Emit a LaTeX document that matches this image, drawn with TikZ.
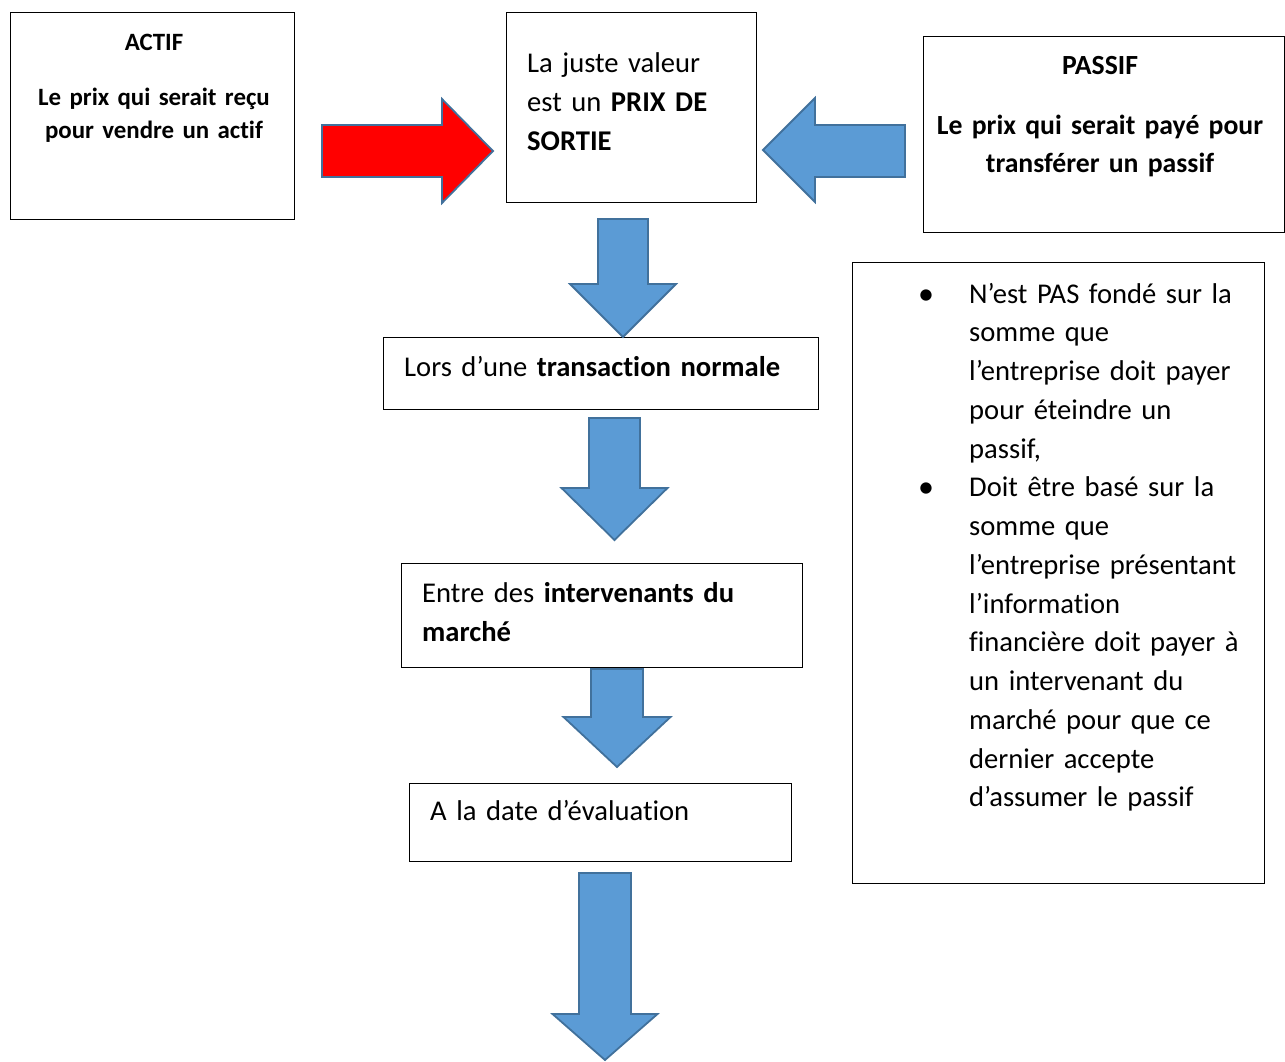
\documentclass[tikz,border=0pt]{standalone}
\usepackage{fontspec}
\setmainfont{Carlito}[Ligatures={CommonOff}]
\definecolor{arrowblue}{HTML}{5B9BD5}
\definecolor{arrowedge}{HTML}{41719C}
\definecolor{arrowred}{HTML}{FF0000}
\tikzset{
  box/.style={draw=black, line width=1.3pt, rectangle, inner sep=0pt, anchor=north west},
  blockarrow/.style={fill=arrowblue, draw=arrowedge, line width=1.8pt, line join=miter},
  redarrow/.style={blockarrow, fill=arrowred},
  txt/.style={inner sep=0pt, anchor=north west, align=left},
  ctxt/.style={inner sep=0pt, anchor=north, align=center},
  bigfont/.style={font=\fontsize{28.6}{39}\selectfont},
  notefont/.style={font=\fontsize{28.6}{38.75}\selectfont},
  headfont/.style={font=\fontsize{24.9}{33}\selectfont\bfseries},
  passfont/.style={font=\fontsize{27.7}{38.5}\selectfont\bfseries},
}
% style, cx, top, half body width, head base y, half head width, tip y
\newcommand\dnblock[7]{%
  \draw[#1] (#2-#4,#3) -- (#2+#4,#3) -- (#2+#4,#5) -- (#2+#6,#5) -- (#2,#7)
    -- (#2-#6,#5) -- (#2-#4,#5) -- cycle;}
\begin{document}
\begin{tikzpicture}[x=1pt,y=-1pt]
\useasboundingbox (0,0) rectangle (1285,1061);

% boxes
\node[box, minimum width=284pt, minimum height=207pt] (actif) at (10,12) {};
\node[box, minimum width=250pt, minimum height=190pt] (sortie) at (506,12) {};
\node[box, minimum width=361pt, minimum height=196pt] (passif) at (923,36) {};
\node[box, minimum width=435pt, minimum height=72pt] (lors) at (383,337) {};
\node[box, minimum width=401pt, minimum height=104pt] (entre) at (401,563) {};
\node[box, minimum width=382pt, minimum height=78pt] (date) at (409,783) {};
\node[box, minimum width=412pt, minimum height=621pt] (notes) at (852,262) {};

% texts
\node[ctxt, headfont, text width=284pt] (actift) at (154,50-23.1)
  {\strut ACTIF\\[22pt] Le prix qui serait reçu\\ pour vendre un actif};
\node[ctxt, passfont, text width=361pt] (passift) at (1100,74-26.95)
  {\strut PASSIF\\[21.5pt] Le prix qui serait payé pour\\ transférer un passif};
\node[txt, bigfont, text width=228pt] (sortiet) at (527,72-27.3)
  {\strut La juste valeur\\ est un \textbf{PRIX DE}\\ \textbf{SORTIE}};
\node[txt, bigfont, text width=410pt] (lorst) at (404,376-27.3)
  {\strut Lors d’une \textbf{transaction normale}};
\node[txt, bigfont, text width=375pt] (entret) at (422,602-27.3)
  {\strut Entre des \textbf{intervenants du}\\ \textbf{marché}};
\node[txt, bigfont, text width=355pt] (datet) at (430,820-27.3)
  {\strut A la date d’évaluation};
\node[txt, notefont, text width=292pt] (notest) at (969,303-27.1)
  {\strut N’est PAS fondé sur la\\ somme que\\ l’entreprise doit payer\\ pour éteindre un\\ passif,\\
   Doit être basé sur la\\ somme que\\ l’entreprise présentant\\ l’information\\ financière doit payer à\\
   un intervenant du\\ marché pour que ce\\ dernier accepte\\ d’assumer le passif};
\node[inner sep=0pt, anchor=base, font=\fontsize{32}{39}\selectfont] (bul1) at (926,304) {•};
\node[inner sep=0pt, anchor=base, font=\fontsize{32}{39}\selectfont] (bul2) at (926,304+5*38.75) {•};

% horizontal block arrows
\draw[redarrow] (322,125) -- (442,125) -- (442,99) -- (493,151) -- (442,203)
  -- (442,177) -- (322,177) -- cycle;
\draw[blockarrow] (905,125) -- (815,125) -- (815,98) -- (763,150) -- (815,202)
  -- (815,177) -- (905,177) -- cycle;

% vertical block arrows
\dnblock{blockarrow}{623}{219}{25}{284}{53}{337}
\dnblock{blockarrow}{614.5}{418}{25.5}{488}{53}{540}
\dnblock{blockarrow}{617}{669}{26}{717}{53.5}{767}
\dnblock{blockarrow}{605}{873}{26}{1014}{52.5}{1060}
\end{tikzpicture}
\end{document}
